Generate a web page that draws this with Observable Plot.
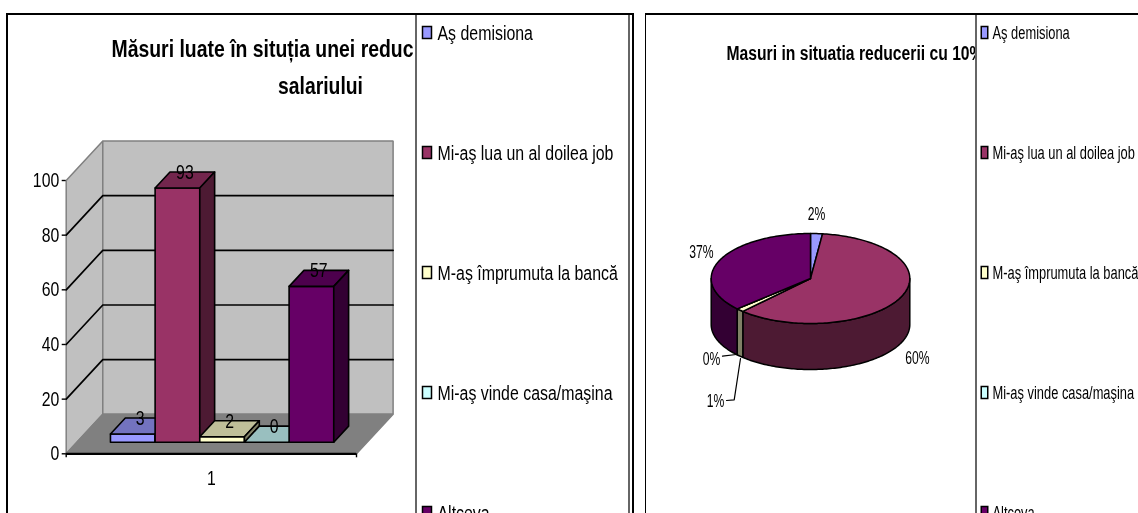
<!DOCTYPE html>
<html><head><meta charset="utf-8">
<script src="https://cdn.jsdelivr.net/npm/d3@7"></script>
<script src="https://cdn.jsdelivr.net/npm/@observablehq/plot@0.6"></script>
<style>
html,body{margin:0;background:#fff;overflow:hidden}
#page{position:relative;width:1138px;height:513px;overflow:hidden;background:#fff;filter:blur(.3px)}
#page>div{position:absolute;box-sizing:border-box}
svg{display:block;overflow:hidden;max-width:none!important;background:transparent}
</style></head><body><div id="page"></div>
<script>
// ---- data ----
const seriesNames = ["Aş demisiona","Mi-aş lua un al doilea job","M-aş împrumuta la bancă","Mi-aş vinde casa/maşina","Altceva"];
const seriesValues = [3,93,2,0,57];
const seriesColors = ["#9999FF","#993366","#FFFFCC","#CCFFFF","#660066"];
const yTicks = [0,20,40,60,80,100];
const categoryLabel = ["1"];
const barTitleLines = ["Măsuri luate în situția unei reduc","salariului"];
const pieTitle = "Masuri in situatia reducerii cu 10%";

// ---- helpers ----
const FONT = "'Liberation Sans',Arial,sans-serif";
const shade = (c,k)=>{const r=d3.rgb(c);return d3.rgb(r.r*k,r.g*k,r.b*k).formatHex();};
const page = document.getElementById("page");
function place(node,left,width){const d=document.createElement("div");d.style.left=left+"px";d.style.top="0";d.style.width=width+"px";d.style.height="513px";d.appendChild(node);page.appendChild(d);return d;}
function box(left,top,width,height,color){const d=document.createElement("div");Object.assign(d.style,{left:left+"px",top:top+"px",width:width+"px",height:height+"px",background:color});page.appendChild(d);}
const swatch=(w,h)=>({draw(c){c.rect(-w/2,-h/2,w,h);}});
// the reference's type is horizontally condensed: squeeze real text to the same width
function condense(svg,k,widths={}){
  svg.querySelectorAll("text").forEach(t=>{
    const s=t.textContent; if(!s) return;
    const w=widths[s]??t.getComputedTextLength()*k;
    t.setAttribute("textLength",w);t.setAttribute("lengthAdjust","spacingAndGlyphs");
  });
}

// ---- 3D column chart ----
const PX_W = 290.3/6.5, PX_V = 2.733;
const DX = 36.6/PX_W, DY = 39.5/PX_V;
const P=(u,v,d=0)=>({x:u+d*DX,y:v+d*DY});
const walls=[],bars=[];
const addFace=(arr,id,pts,fill,stroke)=>pts.forEach(p=>arr.push({...p,id,fill,stroke}));
addFace(walls,"left",[P(0,0),P(0,0,1),P(0,100,1),P(0,100)],"#C0C0C0","#808080");
addFace(walls,"back",[P(0,0,1),P(6.5,0,1),P(6.5,100,1),P(0,100,1)],"#C0C0C0","#808080");
addFace(walls,"floor",[P(0,0),P(6.5,0),P(6.5,0,1),P(0,0,1)],"#808080","#808080");
const grid=yTicks.slice(1,-1).flatMap(v=>[P(0,v),P(0,v,1),P(6.5,v,1)].map(p=>({...p,v})));
const D0=.294,D1=.70;
const tops=[];
seriesValues.forEach((v,i)=>{
  const u0=.75+i,u1=u0+1,c=seriesColors[i];
  addFace(bars,"front"+i,[P(u0,0,D0),P(u1,0,D0),P(u1,v,D0),P(u0,v,D0)],c,"#000");
  addFace(bars,"top"+i,[P(u0,v,D0),P(u1,v,D0),P(u1,v,D1),P(u0,v,D1)],shade(c,.75),"#000");
  addFace(bars,"side"+i,[P(u1,0,D0),P(u1,0,D1),P(u1,v,D1),P(u1,v,D0)],shade(c,.5),"#000");
  tops.push({...P(u0+.5,v,(D0+D1)/2),label:String(v)});
});
const barChart=Plot.plot({
  width:416,height:513,marginLeft:65.7,marginRight:60,marginTop:0,marginBottom:59.7,
  style:{fontFamily:FONT,fontSize:"20px",color:"#000",background:"transparent"},
  x:{domain:[0,6.5],range:[65.7,356],label:null},
  y:{domain:[0,100],range:[453.3,180],label:null},
  color:{type:"identity"},
  marks:[
    Plot.line(walls,{x:"x",y:"y",z:"id",fill:"fill",stroke:"stroke",curve:"linear-closed",strokeWidth:1.5,strokeLinejoin:"miter"}),
    Plot.line(grid,{x:"x",y:"y",z:"v",stroke:"#000",strokeWidth:1.7}),
    Plot.line(bars,{x:"x",y:"y",z:"id",fill:"fill",stroke:"stroke",curve:"linear-closed",strokeWidth:1.6}),
    Plot.ruleY([0],{stroke:"#000",strokeWidth:2.2}),
    Plot.axisY({ticks:yTicks,tickSize:4,tickPadding:3,label:null,fontSize:20,strokeWidth:1.4}),
    Plot.axisX({ticks:[0,6.5],tickSize:4,tickFormat:()=>"",label:null,strokeWidth:1.4}),
    Plot.text(categoryLabel,{x:()=>3.25,y:()=>0,dy:25,text:d=>d,fontSize:20,lineAnchor:"middle"}),
    Plot.text(tops,{x:"x",y:"y",text:"label",dy:-7.5,fontSize:20,lineAnchor:"middle"}),
    Plot.text([barTitleLines[0]],{frameAnchor:"top-left",dx:45.3,dy:49,textAnchor:"start",lineAnchor:"middle",fontWeight:"bold",fontSize:24,fill:"#000",text:d=>d}),
    Plot.text([barTitleLines[1]],{frameAnchor:"top-left",dx:254.3,dy:86,textAnchor:"middle",lineAnchor:"middle",fontWeight:"bold",fontSize:24,fill:"#000",text:d=>d})
  ]
});
place(barChart,0,416);
condense(barChart,.79,{[barTitleLines[0]]:302,[barTitleLines[1]]:85});

// ---- 3D pie chart ----
const total=d3.sum(seriesValues);
const RX=99.3,RY=45,H=46/RY;
const pt=(t,h=0)=>({x:Math.sin(t),y:Math.cos(t)-h});
let acc=0;
const slices=seriesValues.map((v,i)=>{const a=acc/total*2*Math.PI;acc+=v;const b=acc/total*2*Math.PI;return {a,b,i,v,pct:Math.round(v/total*100)+"%"};});
const arc=(a,b)=>{const n=Math.max(2,Math.ceil((b-a)*48));return d3.range(n+1).map(k=>a+(b-a)*k/n);};
const pieFaces=[];
slices.forEach(s=>{
  const lo=Math.max(s.a,Math.PI/2),hi=Math.min(s.b,3*Math.PI/2);
  if(hi>lo){const ts=arc(lo,hi);
    [...ts.map(t=>pt(t)),...ts.slice().reverse().map(t=>pt(t,H))].forEach(p=>pieFaces.push({...p,id:"s"+s.i,fill:shade(seriesColors[s.i],.5)}));}
});
slices.forEach(s=>{
  [{x:0,y:0},...arc(s.a,s.b).map(t=>pt(t))].forEach(p=>pieFaces.push({...p,id:"t"+s.i,fill:seriesColors[s.i]}));
});
// label placement relative to the pie centre, one per slice
const pieLabelSpots=[[6,-65],[107,79],[-95,122],[-99,80],[-109,-27]];
const leaderSpots=[{id:"a",p:[[-88,77.7],[-74.3,76]]},{id:"b",p:[[-70,80],[-76.3,121.3],[-84,122]]}];
const leaders=leaderSpots.flatMap(l=>l.p.map(([x,y])=>({id:l.id,x:x/RX,y:-y/RY})));
const pieChart=Plot.plot({
  width:340,height:513,margin:0,
  style:{fontFamily:FONT,fontSize:"19px",color:"#000",background:"transparent"},
  x:{domain:[-1,1],range:[174-RX,174+RX],axis:null},
  y:{domain:[-1,1],range:[278+RY,278-RY],axis:null},
  color:{type:"identity"},
  marks:[
    Plot.line(pieFaces,{x:"x",y:"y",z:"id",fill:"fill",stroke:"#000",curve:"linear-closed",strokeWidth:1.5}),
    Plot.line(leaders,{x:"x",y:"y",z:"id",stroke:"#000",strokeWidth:1.2}),
    ...slices.map((s,i)=>Plot.text([s.pct],{x:()=>0,y:()=>0,dx:pieLabelSpots[i][0],dy:pieLabelSpots[i][1],text:d=>d,fontSize:19,lineAnchor:"middle"})),
    Plot.text([pieTitle],{frameAnchor:"top-left",dx:90,dy:53,textAnchor:"start",lineAnchor:"middle",fontWeight:"bold",fontSize:20,fill:"#000",text:d=>d})
  ]
});
place(pieChart,636,340);
condense(pieChart,.64,{[pieTitle]:257});

// ---- legends ----
function legend(width,fontSize,swW,swX,textX){
  return Plot.plot({
    width,height:513,margin:0,
    style:{fontFamily:FONT,color:"#000",background:"#fff"},
    y:{type:"point",domain:seriesNames,range:[33,513],padding:0,axis:null},
    color:{domain:seriesNames,range:seriesColors},
    marks:[
      Plot.dot(seriesNames,{y:d=>d,frameAnchor:"left",dx:swX,dy:-1,fill:d=>d,stroke:"#000",strokeWidth:1.5,symbol:swatch(swW,12)}),
      Plot.text(seriesNames,{y:d=>d,frameAnchor:"left",dx:textX,textAnchor:"start",lineAnchor:"middle",fontSize,text:d=>d})
    ]
  });
}
{const s=legend(212,20,9,9.5,20);place(s,417,212);condense(s,.795);}
{const s=legend(162,18,6.5,8,16);place(s,976,162);condense(s,.715);}

// ---- panel frames ----
box(6,13,628,2,"#000");box(6,13,1.5,500,"#000");box(415,15,1.6,498,"#666");box(628,15,1.6,498,"#666");box(632,13,2,500,"#000");
box(645,13,493,2,"#000");box(645,13,1.2,500,"#000");box(975,15,1.6,498,"#666");
</script></body></html>
